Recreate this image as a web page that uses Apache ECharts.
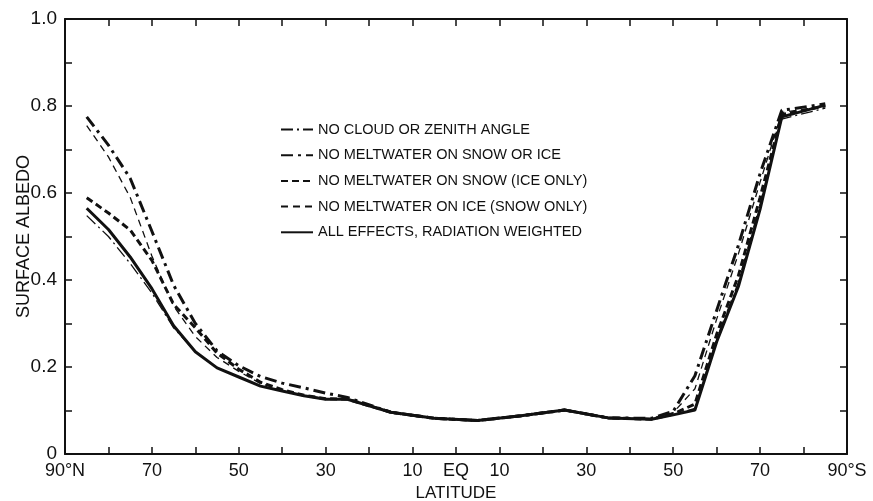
<!DOCTYPE html>
<html>
<head>
<meta charset="utf-8">
<script src="https://cdn.jsdelivr.net/npm/echarts@6/dist/echarts.min.js"></script>
<style>
  html, body { margin: 0; padding: 0; background: #fff; }
  #chart { width: 873px; height: 501px; }
</style>
</head>
<body>
<div id="chart"></div>
<script>
// latitude in degrees, north positive
const latitudes = [85, 80, 75, 70, 65, 60, 55, 50, 45, 40, 35, 30, 25, 15, 5, -5, -15, -25, -35, -45, -50, -55, -60, -65, -70, -75, -85];

const noCloudZenith =   [0.548, 0.500, 0.438, 0.370, 0.290, 0.235, 0.198, 0.177, 0.156, 0.145, 0.134, 0.126, 0.126, 0.096, 0.082, 0.077, 0.088, 0.101, 0.083, 0.080, 0.090, 0.105, 0.265, 0.395, 0.575, 0.770, 0.795];
const noMeltSnowIce =   [0.775, 0.710, 0.634, 0.512, 0.388, 0.300, 0.237, 0.203, 0.178, 0.163, 0.152, 0.140, 0.130, 0.096, 0.082, 0.077, 0.088, 0.101, 0.083, 0.082, 0.098, 0.180, 0.330, 0.480, 0.645, 0.790, 0.805];
const noMeltSnow =      [0.589, 0.554, 0.515, 0.445, 0.344, 0.290, 0.232, 0.195, 0.165, 0.148, 0.135, 0.127, 0.126, 0.096, 0.082, 0.077, 0.088, 0.101, 0.083, 0.080, 0.092, 0.115, 0.275, 0.410, 0.590, 0.780, 0.800];
const noMeltIce =       [0.755, 0.683, 0.590, 0.455, 0.340, 0.270, 0.222, 0.190, 0.162, 0.147, 0.135, 0.127, 0.126, 0.096, 0.082, 0.077, 0.088, 0.101, 0.083, 0.081, 0.095, 0.150, 0.310, 0.460, 0.625, 0.785, 0.800];
const allEffects =      [0.565, 0.516, 0.453, 0.380, 0.295, 0.235, 0.198, 0.177, 0.156, 0.145, 0.134, 0.126, 0.126, 0.096, 0.082, 0.077, 0.088, 0.101, 0.083, 0.080, 0.090, 0.101, 0.258, 0.385, 0.563, 0.775, 0.802];

const seriesNames = [
  'NO CLOUD OR ZENITH ANGLE',
  'NO MELTWATER ON SNOW OR ICE',
  'NO MELTWATER ON SNOW (ICE ONLY)',
  'NO MELTWATER ON ICE (SNOW ONLY)',
  'ALL EFFECTS, RADIATION WEIGHTED'
];

const ink = '#111';
const font = 'Liberation Sans';

function pairs(values) {
  return latitudes.map((lat, i) => [lat, values[i]]);
}

function latLabel(v) {
  if (v === 90) return '90°N';
  if (v === -90) return '90°S';
  if (v === 0) return 'EQ';
  if (Math.abs(v) % 20 === 10) return String(Math.abs(v));
  return '';
}

function lineSeries(name, values, width, dash, z) {
  return {
    name,
    type: 'line',
    data: pairs(values),
    symbol: 'none',
    z,
    lineStyle: { color: ink, width, type: dash },
    itemStyle: { color: ink }
  };
}

const frameLine = { onZero: false, lineStyle: { color: ink, width: 2 } };
const frameTick = { show: true, inside: true, length: 7, lineStyle: { color: ink, width: 1.5 } };

const chart = echarts.init(document.getElementById('chart'), null, { renderer: 'canvas' });

chart.setOption({
  animation: false,
  backgroundColor: '#fff',
  textStyle: { fontFamily: font, color: ink },
  grid: { left: 65, right: 26, top: 19, bottom: 47, outerBoundsMode: 'none', containLabel: false },
  legend: {
    orient: 'vertical',
    left: 275,
    top: 117,
    itemWidth: 32,
    itemHeight: 14,
    itemGap: 10.7,
    itemStyle: { opacity: 0 },
    data: seriesNames,
    textStyle: { fontFamily: font, fontSize: 14.5, color: ink }
  },
  xAxis: [
    {
      type: 'value', min: -90, max: 90, interval: 10, inverse: true,
      name: 'LATITUDE', nameLocation: 'middle', nameGap: 31, nameMoveOverlap: false,
      nameTextStyle: { fontFamily: font, fontSize: 17, color: ink },
      axisLine: { show: true, ...frameLine },
      axisTick: frameTick,
      axisLabel: { formatter: latLabel, fontSize: 18, color: ink, margin: 8, fontFamily: font },
      splitLine: { show: false }
    },
    {
      type: 'value', min: -90, max: 90, interval: 10, inverse: true, position: 'top',
      axisLine: { show: true, ...frameLine },
      axisTick: frameTick,
      axisLabel: { show: false },
      splitLine: { show: false }
    }
  ],
  yAxis: [
    {
      type: 'value', min: 0, max: 1, interval: 0.1,
      name: 'SURFACE ALBEDO', nameLocation: 'middle', nameGap: 32, nameMoveOverlap: false,
      nameTextStyle: { fontFamily: font, fontSize: 18, color: ink },
      axisLine: { show: true, ...frameLine },
      axisTick: frameTick,
      axisLabel: {
        fontSize: 19, color: ink, margin: 8, fontFamily: font,
        formatter: v => {
          const k = Math.round(v * 10);
          if (k % 2 !== 0) return '';
          return k === 0 ? '0' : (k / 10).toFixed(1);
        }
      },
      splitLine: { show: false }
    },
    {
      type: 'value', min: 0, max: 1, interval: 0.1, position: 'right',
      axisLine: { show: true, ...frameLine },
      axisTick: frameTick,
      axisLabel: { show: false },
      splitLine: { show: false }
    }
  ],
  series: [
    lineSeries(seriesNames[0], noCloudZenith, 1.3, [12, 4, 2, 4], 2),
    lineSeries(seriesNames[1], noMeltSnowIce, 3, [12, 5, 3, 5], 3),
    lineSeries(seriesNames[2], noMeltSnow, 3, [7, 4], 3),
    lineSeries(seriesNames[3], noMeltIce, 1.3, [7, 5], 2),
    lineSeries(seriesNames[4], allEffects, 3, 'solid', 4)
  ]
});
</script>
</body>
</html>
